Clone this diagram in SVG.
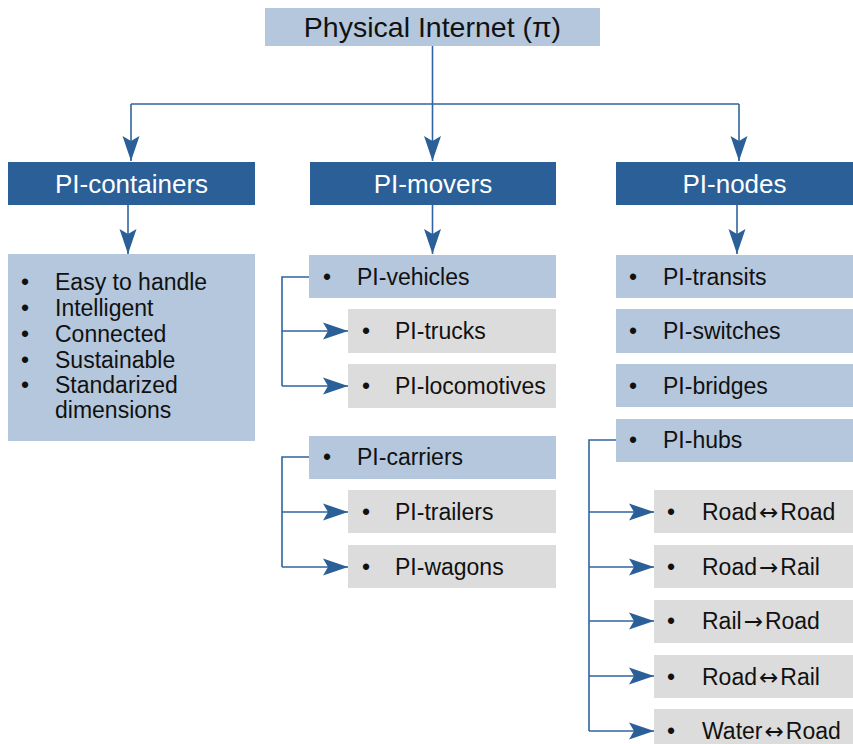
<svg xmlns="http://www.w3.org/2000/svg" width="853" height="744" viewBox="0 0 853 744">
<style>
text{font-family:"Liberation Sans",Arial,sans-serif;fill:#111}
.top{fill:#b4c7dc}
.hd{fill:#2a5f98}
.lb{fill:#b4c7dc}
.gr{fill:#dcdcdc}
.t28{font-size:28.5px;text-anchor:middle}
.t26{font-size:26px;text-anchor:middle;fill:#fff}
.it{font-size:23px}
.bu{font-size:23px;text-anchor:middle}
.ar{font-family:"DejaVu Sans",sans-serif;font-size:23px}
.ln{fill:none;stroke:#2f64a0;stroke-width:1.6}
</style>
<defs>
<marker id="ah" markerUnits="userSpaceOnUse" markerWidth="26" markerHeight="18" viewBox="0 0 26 18" refX="25" refY="9" orient="auto">
<path d="M0,0.5 L25,9 L0,17.5 L5,9 z" fill="#2a5f98"/>
</marker>
</defs>
<g id="connectors">
<path class="ln" d="M432.5,46 V104"/>
<path class="ln" d="M131,104 H739"/>
<path class="ln" d="M131,104 V161" marker-end="url(#ah)"/>
<path class="ln" d="M432.5,104 V161" marker-end="url(#ah)"/>
<path class="ln" d="M739,104 V161" marker-end="url(#ah)"/>
<path class="ln" d="M128,205 V254" marker-end="url(#ah)"/>
<path class="ln" d="M432.5,205 V254" marker-end="url(#ah)"/>
<path class="ln" d="M737,205 V254" marker-end="url(#ah)"/>
<path class="ln" d="M309,277 H282 V386"/>
<path class="ln" d="M282,331 H348" marker-end="url(#ah)"/>
<path class="ln" d="M282,386 H348" marker-end="url(#ah)"/>
<path class="ln" d="M309,457 H282 V567"/>
<path class="ln" d="M282,512 H348" marker-end="url(#ah)"/>
<path class="ln" d="M282,567 H348" marker-end="url(#ah)"/>
<path class="ln" d="M616,440 H589 V731"/>
<path class="ln" d="M589,512 H654" marker-end="url(#ah)"/>
<path class="ln" d="M589,567 H654" marker-end="url(#ah)"/>
<path class="ln" d="M589,621 H654" marker-end="url(#ah)"/>
<path class="ln" d="M589,676 H654" marker-end="url(#ah)"/>
<path class="ln" d="M589,731 H654" marker-end="url(#ah)"/>
</g>
<g id="root"><rect class="top" x="265" y="8" width="335" height="38"/><text class="t28" x="432.5" y="37">Physical Internet (π)</text></g>
<g id="pi-containers"><rect class="hd" x="8" y="162" width="247" height="43"/><text class="t26" x="131.5" y="193">PI-containers</text></g>
<g id="pi-movers"><rect class="hd" x="310" y="162" width="246" height="43"/><text class="t26" x="433" y="193">PI-movers</text></g>
<g id="pi-nodes"><rect class="hd" x="616" y="162" width="237" height="43"/><text class="t26" x="734.5" y="193">PI-nodes</text></g>
<g id="containers-list"><rect class="lb" x="8" y="254" width="247" height="187"/>
<text class="bu" x="25" y="290">•</text><text class="it" x="55" y="290">Easy to handle</text>
<text class="bu" x="25" y="316">•</text><text class="it" x="55" y="316">Intelligent</text>
<text class="bu" x="25" y="342">•</text><text class="it" x="55" y="342">Connected</text>
<text class="bu" x="25" y="368">•</text><text class="it" x="55" y="368">Sustainable</text>
<text class="bu" x="25" y="393">•</text><text class="it" x="55" y="393">Standarized</text>
<text class="it" x="55" y="418">dimensions</text></g>
<g id="pi-vehicles"><rect class="lb" x="309" y="255" width="247" height="43"/><text class="bu" x="327" y="285">•</text><text class="it" x="357" y="285">PI-vehicles</text></g>
<g id="pi-trucks"><rect class="gr" x="348" y="309" width="208" height="44"/><text class="bu" x="366" y="339">•</text><text class="it" x="395" y="339">PI-trucks</text></g>
<g id="pi-locomotives"><rect class="gr" x="348" y="364" width="208" height="44"/><text class="bu" x="366" y="394">•</text><text class="it" x="395" y="394">PI-locomotives</text></g>
<g id="pi-carriers"><rect class="lb" x="309" y="436" width="247" height="43"/><text class="bu" x="327" y="465">•</text><text class="it" x="357" y="465">PI-carriers</text></g>
<g id="pi-trailers"><rect class="gr" x="348" y="490" width="208" height="43"/><text class="bu" x="366" y="520">•</text><text class="it" x="395" y="520">PI-trailers</text></g>
<g id="pi-wagons"><rect class="gr" x="348" y="545" width="208" height="43"/><text class="bu" x="366" y="575">•</text><text class="it" x="395" y="575">PI-wagons</text></g>
<g id="pi-transits"><rect class="lb" x="616" y="255" width="237" height="43"/><text class="bu" x="633" y="285">•</text><text class="it" x="663" y="285">PI-transits</text></g>
<g id="pi-switches"><rect class="lb" x="616" y="309" width="237" height="44"/><text class="bu" x="633" y="339">•</text><text class="it" x="663" y="339">PI-switches</text></g>
<g id="pi-bridges"><rect class="lb" x="616" y="364" width="237" height="43"/><text class="bu" x="633" y="394">•</text><text class="it" x="663" y="394">PI-bridges</text></g>
<g id="pi-hubs"><rect class="lb" x="616" y="419" width="237" height="43"/><text class="bu" x="633" y="448">•</text><text class="it" x="663" y="448">PI-hubs</text></g>
<g id="road-road"><rect class="gr" x="654" y="490" width="199" height="43"/><text class="bu" x="671" y="520">•</text><text class="it" x="702" y="520">Road<tspan class="ar" dx="2">↔</tspan><tspan dx="2">Road</tspan></text></g>
<g id="road-rail"><rect class="gr" x="654" y="545" width="199" height="43"/><text class="bu" x="671" y="575">•</text><text class="it" x="702" y="575">Road<tspan class="ar" dx="2">→</tspan><tspan dx="2">Rail</tspan></text></g>
<g id="rail-road"><rect class="gr" x="654" y="600" width="199" height="43"/><text class="bu" x="671" y="629">•</text><text class="it" x="702" y="629">Rail<tspan class="ar" dx="2">→</tspan><tspan dx="2">Road</tspan></text></g>
<g id="road-rail-2"><rect class="gr" x="654" y="655" width="199" height="43"/><text class="bu" x="671" y="685">•</text><text class="it" x="702" y="685">Road<tspan class="ar" dx="2">↔</tspan><tspan dx="2">Rail</tspan></text></g>
<g id="water-road"><rect class="gr" x="654" y="709" width="199" height="44"/><text class="bu" x="671" y="739">•</text><text class="it" x="702" y="739">Water<tspan class="ar" dx="2">↔</tspan><tspan dx="2">Road</tspan></text></g>
</svg>
